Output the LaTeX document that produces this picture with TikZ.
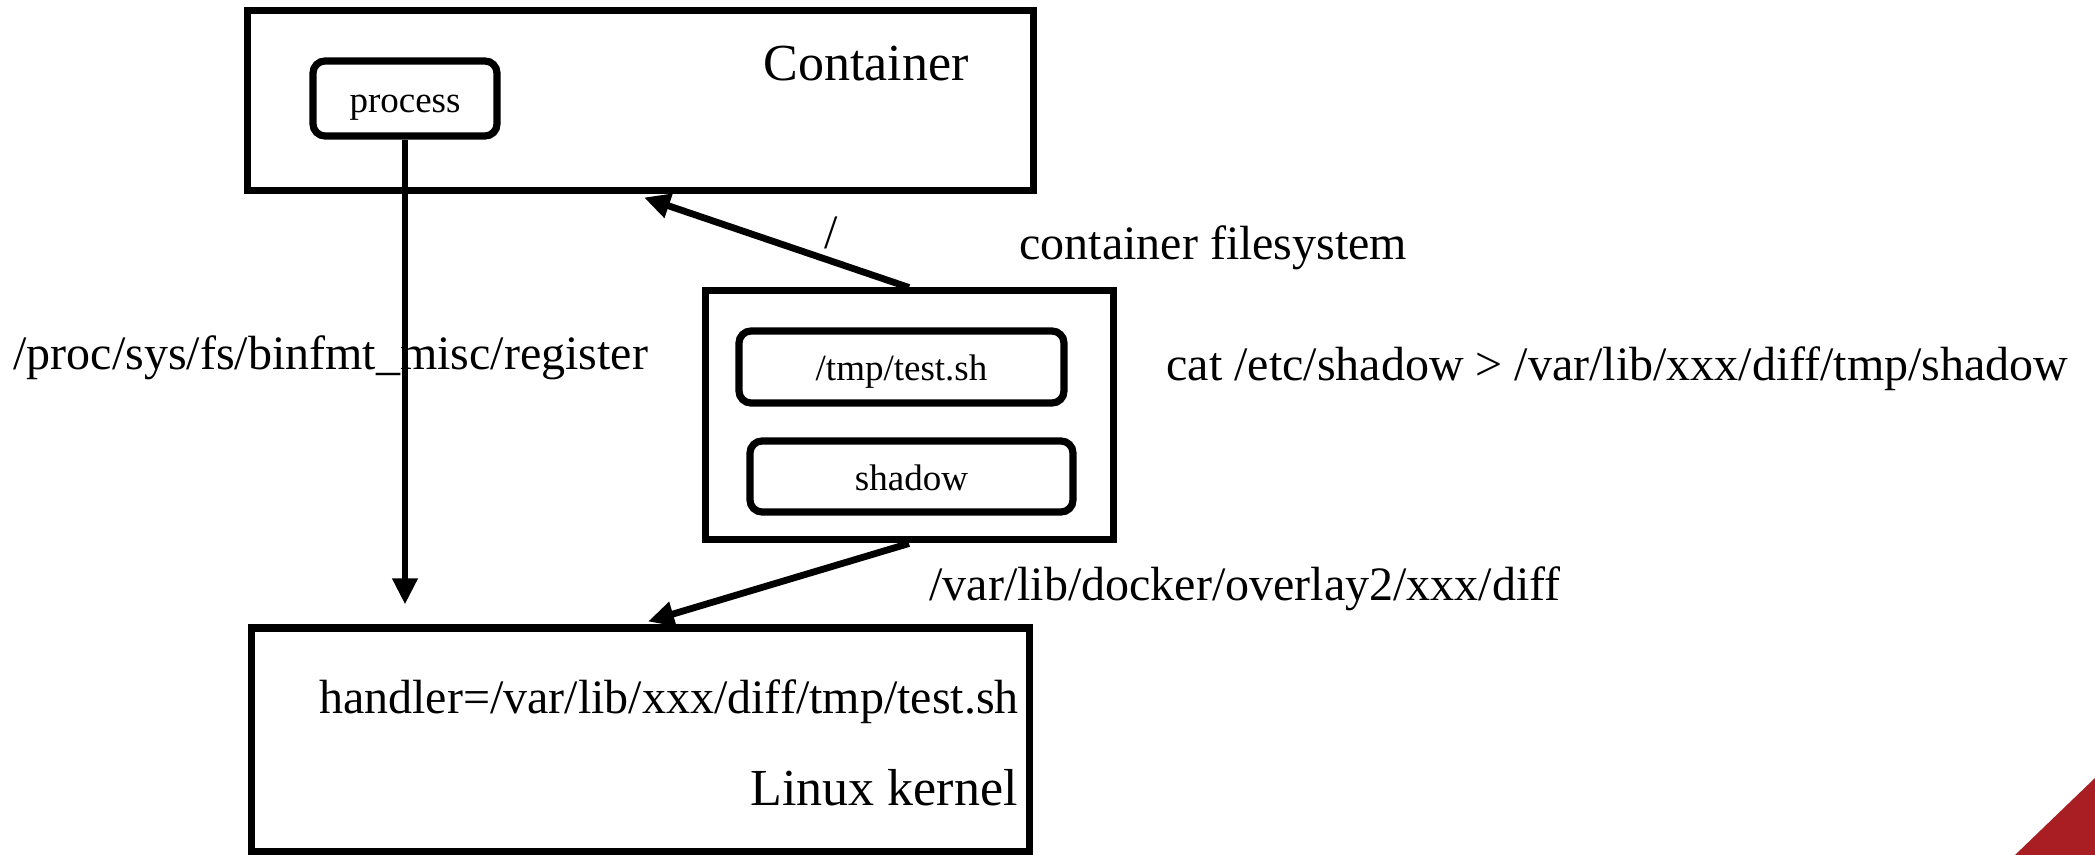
\documentclass[tikz,border=0pt]{standalone}
\usepackage{fontspec}
\setmainfont{Liberation Serif}
\usetikzlibrary{arrows.meta,shadows,calc}
\definecolor{cornerred}{RGB}{168,30,34}
\tikzset{
  bigbox/.style={draw, line width=3.5pt, fill=white, inner sep=0pt,
    drop shadow={shadow xshift=1.5pt, shadow yshift=-1.5pt, opacity=0.25}},
  smallbox/.style={draw, line width=3.6pt, rounded corners=6pt, fill=white, inner sep=0pt,
    font=\fontsize{18.5}{22}\selectfont, text height=1.4em, text depth=0pt,
    drop shadow={shadow xshift=1.5pt, shadow yshift=-1.5pt, opacity=0.25}},
  biglabel/.style={inner sep=0pt, font=\fontsize{26}{30}\selectfont},
  label24/.style={inner sep=0pt, font=\fontsize{24}{28}\selectfont},
  conn/.style={line width=3.4pt, -{Triangle[length=13pt,width=12pt]}},
}
\begin{document}
\begin{tikzpicture}[x=0.5pt,y=-0.5pt]
\useasboundingbox (0,0) rectangle (2095,855);
% red corner
\fill[cornerred] (2015,855) -- (2095,778) -- (2095,855) -- cycle;
% boxes
\node[bigbox, minimum width=393pt, minimum height=90pt] (container) at (640,101) {};
\node[bigbox, minimum width=389pt, minimum height=111.5pt] (kernel) at (640,739.5) {};
\node[bigbox, minimum width=204pt, minimum height=124.5pt] (fs) at (909,415.5) {};
\node[smallbox, minimum width=92pt, minimum height=37.5pt] (process) at (405,98.5) {process};
\node[smallbox, minimum width=162.5pt, minimum height=36pt] (test) at (901.5,367) {/tmp/test.sh};
\node[smallbox, minimum width=161.5pt, minimum height=35.5pt] (shadow) at (911.5,476.5) {shadow};
% texts
\node[biglabel] (ctitle) at (866,64) {Container};
\node[biglabel, anchor=east] (ktitle) at (1018,788) {Linux kernel};
\node[label24, anchor=east] (handler) at (1019,702) {handler=/var/lib/xxx/diff/tmp/test.sh};
\node[label24, anchor=west] (cfs) at (1019,248) {container filesystem};
\node[label24, anchor=west] (reg) at (13,358) {/proc/sys/fs/binfmt\_misc/register};
\node[label24, anchor=west] (cat) at (1166,369) {cat /etc/shadow > /var/lib/xxx/diff/tmp/shadow};
\node[label24, anchor=west] (overlay) at (929,589) {/var/lib/docker/overlay2/xxx/diff};
\node[label24] (root) at (831,233) {/};
% connectors
\draw[conn, shorten >=10pt] (process.south) -- (process.south |- kernel.north);
\draw[conn] (fs.north) -- ($(container.south)+(4,3)$);
\draw[conn] (fs.south) -- ($(kernel.north)+(8,-3)$);
\end{tikzpicture}
\end{document}
